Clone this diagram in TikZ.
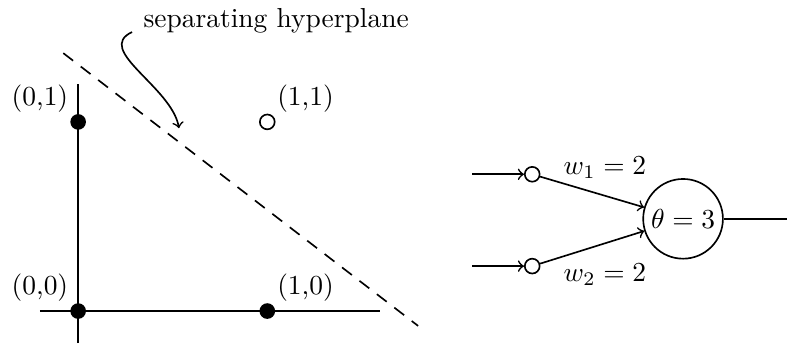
\documentclass[tikz,border=0pt]{standalone}
\usepackage{amsmath}
\usepackage{tikz}

\begin{document}
\begin{tikzpicture}[semithick,
        dot/.style={circle, fill, inner sep=0, minimum size=0.2cm},
        hollow/.style={circle, draw, fill=white, inner sep=0, minimum size=0.19cm}]
        \useasboundingbox (-1.0,-0.435) rectangle (9.07,3.98);
        % eixos
        \draw[thick] (-0.49,0) -- (3.86,0);
        \draw[thick] (0,-0.41) -- (0,2.90);
        \draw[dash pattern=on 4.5pt off 3.5pt] (-0.19,3.30) -- (4.35,-0.19); % hiperpla
        \node[dot] (p00) at (0,0) {};
        \node[dot] (p10) at (2.42,0) {};
        \node[dot] (p01) at (0,2.42) {};
        \node[hollow] (p11) at (2.42,2.42) {};
        \node[anchor=south east] (l00) at (p00.center) {(0,0)};
        \node[anchor=south west] (l10) at (p10.center) {(1,0)};
        \node[anchor=south east] (l01) at (p01.center) {(0,1)};
        \node[anchor=south west] (l11) at (p11.center) {(1,1)};
        \node[anchor=west] (sep) at (0.71,3.71) {separating hyperplane};
        \coordinate (tip) at (1.29,2.34);
        \draw[->] ([shift={(-0.02,-0.14)}]sep.west) to[out=205, in=100] (tip);
        % neurona
        \node[hollow] (x1) at (5.81,1.75) {};
        \node[hollow] (x2) at (5.81,0.575) {};
        \node[circle, draw, inner sep=0, minimum size=1.02cm] (th) at (7.74,1.18) {$\theta = 3$};
        \coordinate (in1) at (5.04,1.75);
        \coordinate (in2) at (5.04,0.575);
        \coordinate (out) at (9.07,1.18);
        \draw[->] (in1) -- (x1); \draw[->] (in2) -- (x2);
        \draw[->] (x1) -- (th); \draw[->] (x2) -- (th);
        \draw (th) -- (out);
        \node (w1) at (6.74,1.84) {$w_1 = 2$};
        \node (w2) at (6.74,0.47) {$w_2 = 2$};
    \end{tikzpicture}
\end{document}
